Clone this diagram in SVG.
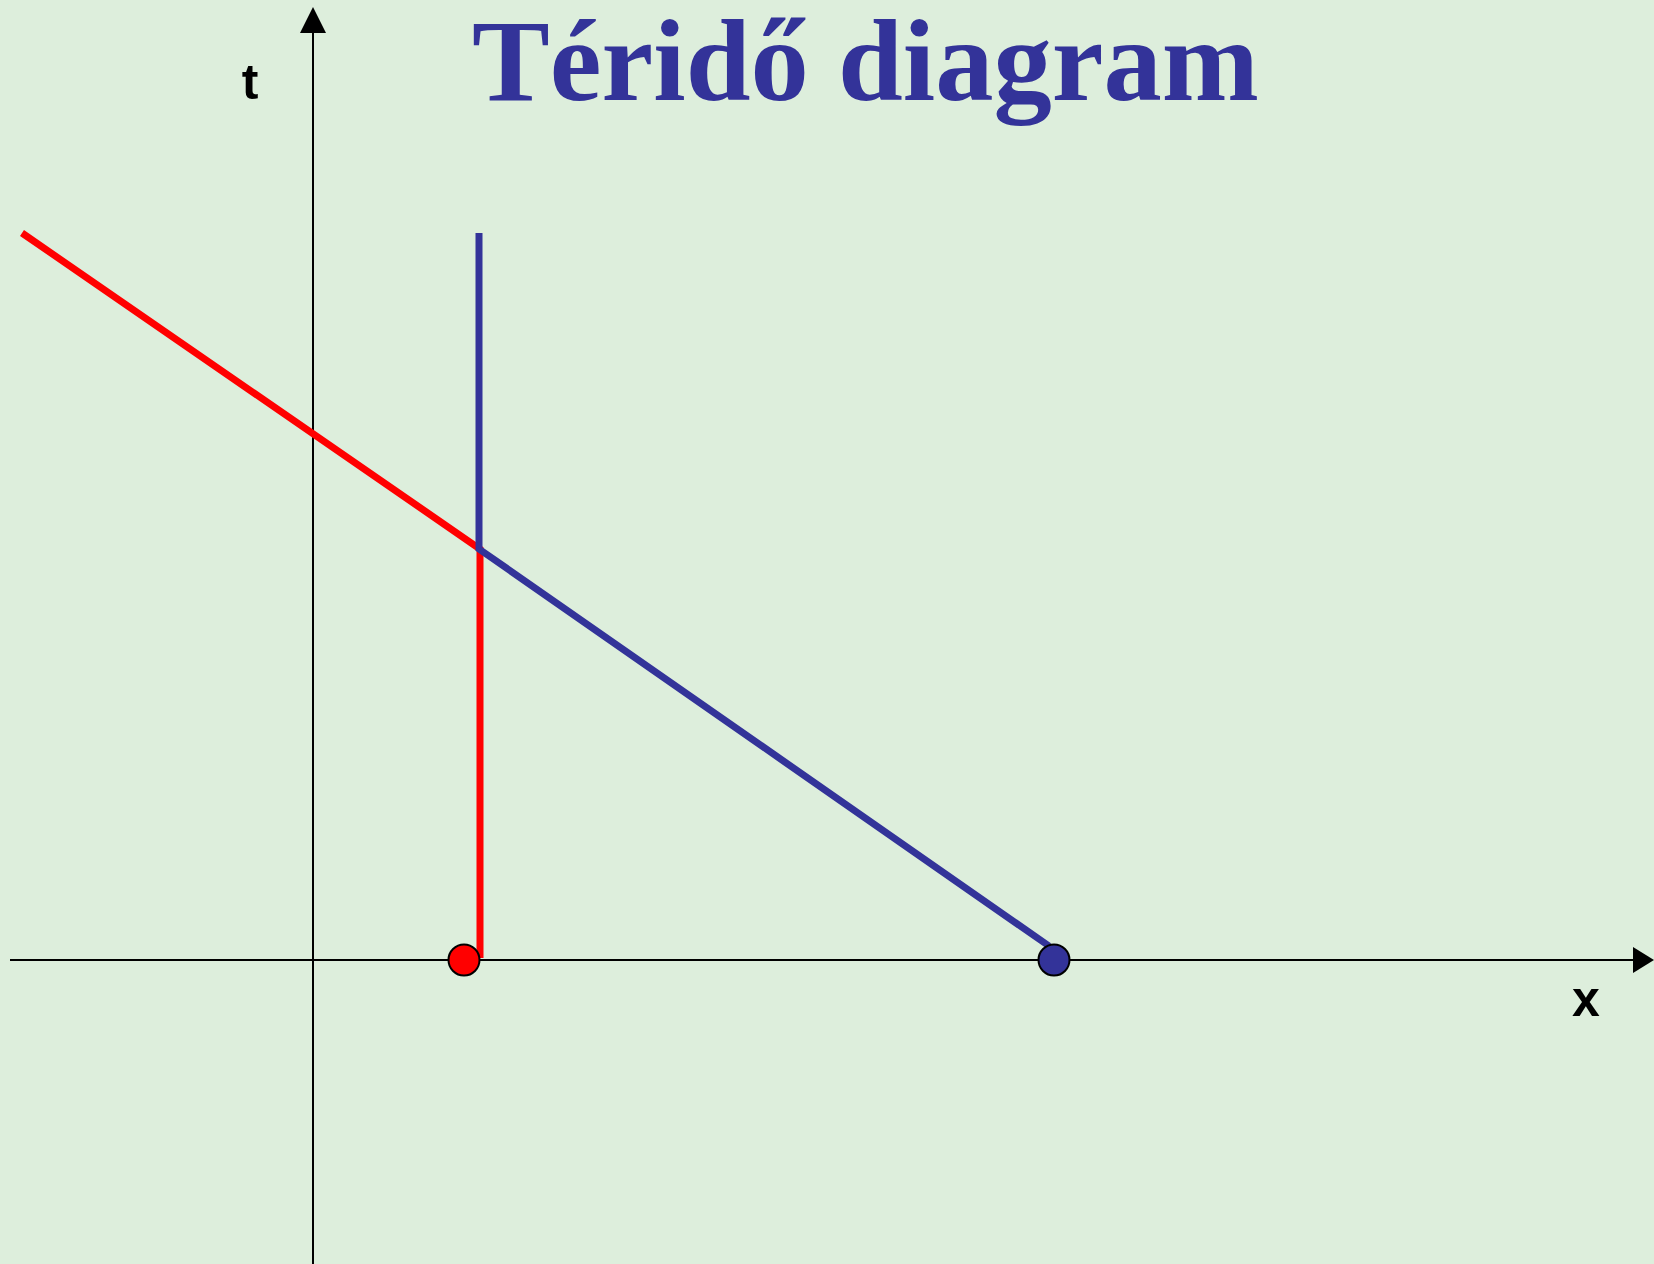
<svg xmlns="http://www.w3.org/2000/svg" width="1654" height="1264" viewBox="0 0 1654 1264">
<style>
.axis{stroke:#000;stroke-width:2;fill:none}
.red{stroke:#FF0000;stroke-width:7;fill:none}
.blue{stroke:#333399;stroke-width:7;fill:none}
.lbl{font-family:"Liberation Sans",Arial,sans-serif;font-weight:bold;font-size:50px;fill:#000;text-anchor:middle}
.title{font-family:"Liberation Serif","Times New Roman",serif;font-weight:bold;font-size:117px;fill:#333399}
</style>
<rect width="1654" height="1264" fill="#DDEEDC"/>
<g id="title"><text class="title" x="472" y="100" textLength="787" lengthAdjust="spacingAndGlyphs">Téridő diagram</text></g>
<g id="axes">
<line class="axis" x1="313" y1="30" x2="313" y2="1264"/>
<polygon points="313,7 300,33 326,33" fill="#000"/>
<line class="axis" x1="10" y1="960" x2="1634" y2="960"/>
<polygon points="1654,960 1633,947 1633,973" fill="#000"/>
</g>
<g id="labels">
<text class="lbl" x="250" y="99">t</text>
<text class="lbl" x="1586" y="1016">x</text>
</g>
<g id="connectors">
<polyline class="red" points="22,233 480,549 480,958"/>
<polyline class="blue" points="479,233 479,549 1049,946"/>
</g>
<g id="red-point"><circle cx="464" cy="960" r="15.5" fill="#FF0000" stroke="#000" stroke-width="2"/></g>
<g id="blue-point"><circle cx="1054" cy="960" r="15.5" fill="#333399" stroke="#000" stroke-width="2"/></g>
</svg>
